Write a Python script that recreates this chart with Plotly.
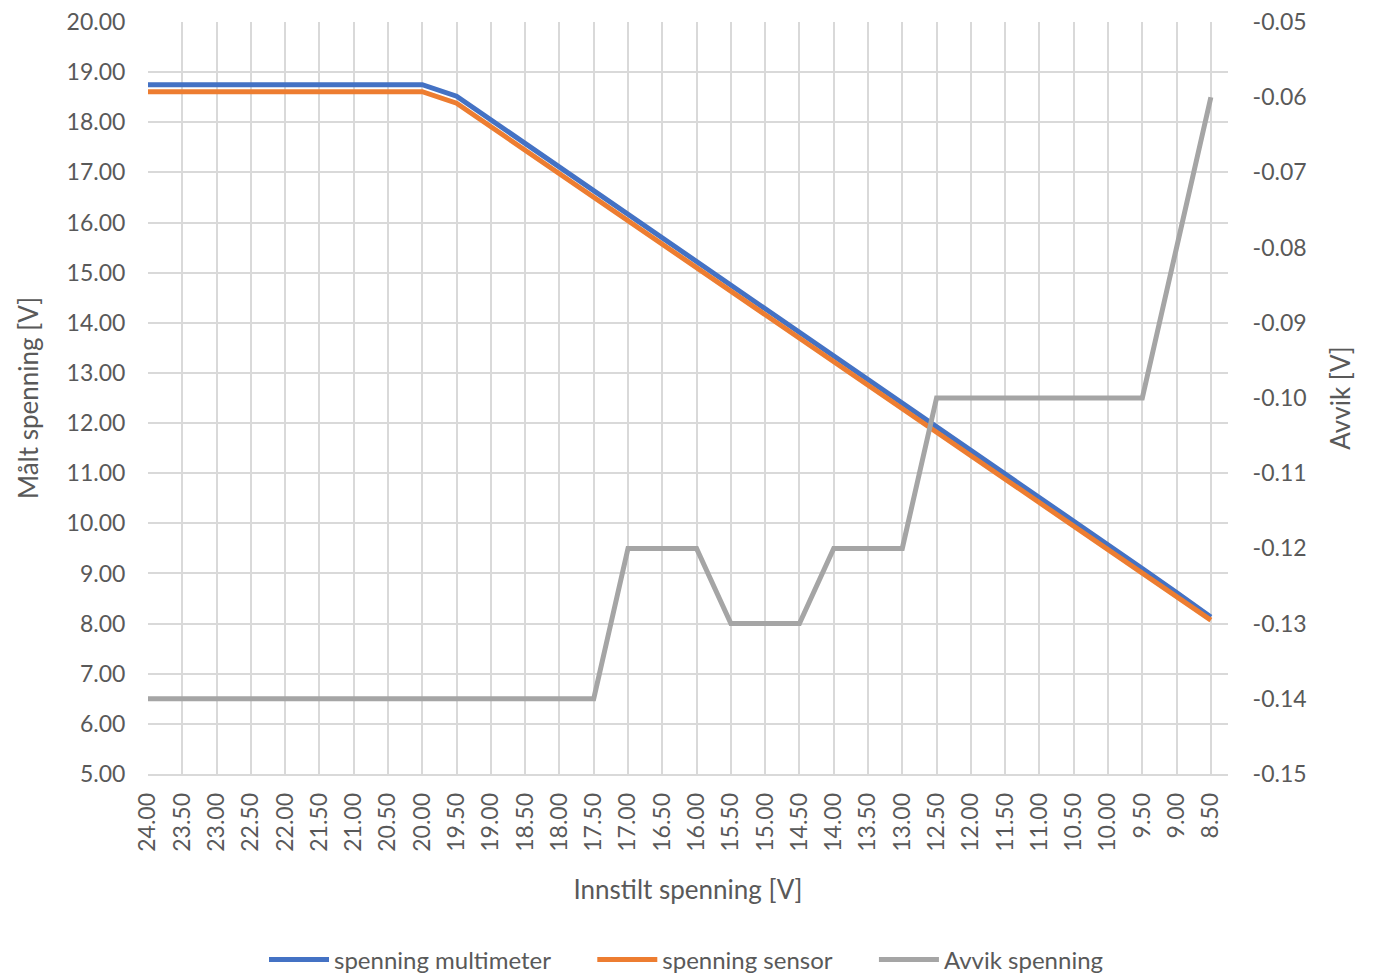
import plotly.graph_objects as go

categories = ["24.00", "23.50", "23.00", "22.50", "22.00", "21.50", "21.00", "20.50",
              "20.00", "19.50", "19.00", "18.50", "18.00", "17.50", "17.00", "16.50",
              "16.00", "15.50", "15.00", "14.50", "14.00", "13.50", "13.00", "12.50",
              "12.00", "11.50", "11.00", "10.50", "10.00", "9.50", "9.00", "8.50"]

spenning_multimeter = [18.75, 18.75, 18.75, 18.75, 18.75, 18.75, 18.75, 18.75,
                       18.75, 18.52, 18.05, 17.58, 17.11, 16.64, 16.17, 15.70,
                       15.23, 14.75, 14.28, 13.81, 13.34, 12.87, 12.40, 11.92,
                       11.45, 10.98, 10.51, 10.04, 9.57, 9.10, 8.62, 8.13]

spenning_sensor = [18.61, 18.61, 18.61, 18.61, 18.61, 18.61, 18.61, 18.61,
                   18.61, 18.38, 17.91, 17.44, 16.97, 16.50, 16.05, 15.58,
                   15.11, 14.62, 14.15, 13.68, 13.22, 12.75, 12.28, 11.82,
                   11.35, 10.88, 10.41, 9.94, 9.47, 9.00, 8.54, 8.07]

avvik_spenning = [-0.14, -0.14, -0.14, -0.14, -0.14, -0.14, -0.14, -0.14,
                  -0.14, -0.14, -0.14, -0.14, -0.14, -0.14, -0.12, -0.12,
                  -0.12, -0.13, -0.13, -0.13, -0.12, -0.12, -0.12, -0.10,
                  -0.10, -0.10, -0.10, -0.10, -0.10, -0.10, -0.08, -0.06]

avvik_ticks = [-0.15, -0.14, -0.13, -0.12, -0.11, -0.10, -0.09, -0.08, -0.07, -0.06, -0.05]
avvik_ticklabels = ["-0.15", "-0.14", "-0.13", "-0.12", "-0.11", "-0.10",
                    "-0.09", "-0.08", "-0.07", "-0.06", "-0.05"]

series_names = ["spenning multimeter", "spenning sensor", "Avvik spenning"]

FONT = "Lato"
TXT = "#595959"
GRID = "#D9D9D9"
TICK_SIZE = 23
TITLE_SIZE = 26
PAD = "\u00a0" * 6  # spacing between legend entries

fig = go.Figure()
fig.add_trace(go.Scatter(x=categories, y=spenning_multimeter, mode="lines",
                         name=series_names[0] + PAD,
                         line=dict(color="#4472C4", width=5)))
fig.add_trace(go.Scatter(x=categories, y=spenning_sensor, mode="lines",
                         name=series_names[1] + PAD,
                         line=dict(color="#ED7D31", width=5)))
fig.add_trace(go.Scatter(x=categories, y=avvik_spenning, mode="lines",
                         name=series_names[2], yaxis="y2",
                         line=dict(color="#A5A5A5", width=5)))

fig.update_layout(
    width=1373, height=977,
    margin=dict(l=148, r=145, t=22, b=203, autoexpand=False),
    paper_bgcolor="white", plot_bgcolor="white",
    font=dict(family=FONT, color=TXT, size=TICK_SIZE),
    showlegend=True,
    legend=dict(orientation="h", x=0.5, xanchor="center", xref="container",
                y=1 - 960 / 977, yanchor="middle", yref="container",
                font=dict(size=24, color=TXT), itemwidth=60,
                tracegroupgap=0),
    xaxis=dict(type="category", range=[0, 31.5], tickangle=-90,
               showgrid=True, gridcolor=GRID, gridwidth=1.5,
               showline=True, linecolor=GRID, linewidth=1.5,
               ticks="outside", ticklen=8, tickcolor="rgba(0,0,0,0)",
               tickfont=dict(size=TICK_SIZE, color=TXT),
               title=dict(text="Innstilt spenning [V]", standoff=30,
                          font=dict(size=TITLE_SIZE, color=TXT))),
    yaxis=dict(range=[5, 20], dtick=1, tickformat=".2f",
               showgrid=True, gridcolor=GRID, gridwidth=1.5,
               zeroline=False, showline=False,
               ticks="outside", ticklen=17, tickcolor="rgba(0,0,0,0)",
               tickfont=dict(size=TICK_SIZE, color=TXT),
               title=dict(text="Målt spenning [V]", standoff=20,
                          font=dict(size=TITLE_SIZE, color=TXT))),
    yaxis2=dict(range=[-0.15, -0.05], tickvals=avvik_ticks, ticktext=avvik_ticklabels,
                overlaying="y", side="right",
                showgrid=False, zeroline=False, showline=False,
                ticks="outside", ticklen=19, tickcolor="rgba(0,0,0,0)",
                tickfont=dict(size=TICK_SIZE, color=TXT),
                title=dict(text="Avvik [V]", standoff=26,
                           font=dict(size=TITLE_SIZE, color=TXT))),
)

fig.write_html("out.html", config={"displayModeBar": False},
               post_script="document.body.style.margin='0';")
